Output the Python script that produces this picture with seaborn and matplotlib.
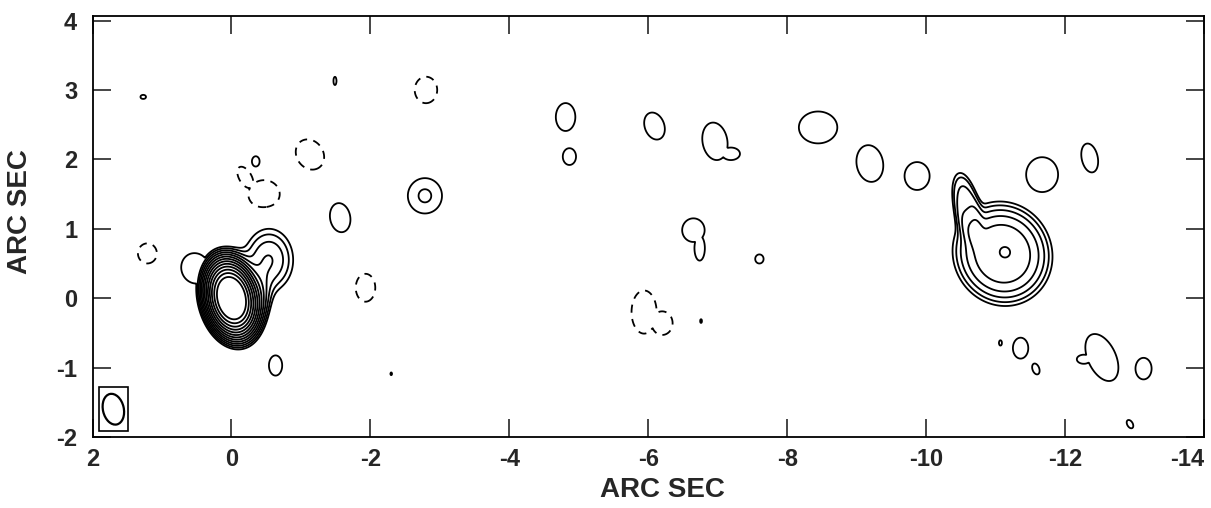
import numpy as np
import matplotlib
matplotlib.use("Agg")
import matplotlib.pyplot as plt
from matplotlib.patches import Ellipse, Rectangle
import seaborn as sns

# contour levels (multiples of the map noise); only one negative level
pos_levels = [1.0, 1.41, 2.0, 2.83, 4.0, 5.66, 8.0, 11.3, 16.0, 22.6, 32.0, 45.3, 64.0]
neg_levels = [-1.0]

# bright emission (core, jet, knot), added together: position, peak, widths, tilt, profile power
src_x = [0.0, -0.54, -0.42, -11.10, -11.14, -10.58]
src_y = [0.0, 0.55, 0.05, 0.64, 0.665, 1.32]
src_amp = [150.0, 2.86, 1.8, 5.3, 0.5, 2.2]
src_sx = [0.155, 0.24, 0.10, 0.475, 0.10, 0.16]
src_sy = [0.237, 0.31, 0.22, 0.51, 0.10, 0.44]
src_ang = [-13, 0, 0, -25, 0, -12]
src_pow = [2, 2, 2, 3, 2, 4]

# faint blobs near the noise (merged as a union); negative ones give the dashed contours
blob_x = [0.52, 1.27, -1.49, -0.35, -0.635, -2.30, -1.565, -2.785, -4.81, -4.865, -6.09,
          -6.96, -7.19, -8.445, -9.19, -9.87, -6.65, -6.74, -7.60, -6.76,
          -11.67, -12.355, -11.07, -11.36, -11.58, -12.53, -12.27, -13.13, -12.935,
          -1.13, -0.47, -0.20, 1.21, -1.93, -2.80, -5.94, -6.20]
blob_y = [0.43, 2.90, 3.13, 1.97, -0.97, -1.09, 1.16, 1.475, 2.61, 2.04, 2.48,
          2.26, 2.08, 2.46, 1.94, 1.76, 0.98, 0.72, 0.565, -0.33,
          1.78, 2.02, -0.645, -0.72, -1.02, -0.855, -0.88, -1.015, -1.815,
          2.07, 1.49, 1.74, 0.645, 0.15, 3.00, -0.20, -0.36]
blob_amp = [1.3, 1.3, 1.3, 1.3, 1.3, 1.3, 1.3, 1.49, 1.3, 1.3, 1.3,
            1.3, 1.3, 1.3, 1.3, 1.3, 1.3, 1.3, 1.3, 1.2,
            1.3, 1.3, 1.15, 1.3, 1.25, 1.3, 1.3, 1.25, 1.3,
            -1.3, -1.3, -1.3, -1.3, -1.3, -1.3, -1.3, -1.3]
blob_sx = [0.236, 0.047, 0.026, 0.065, 0.112, 0.014, 0.171, 0.275, 0.165, 0.112, 0.165,
           0.21, 0.153, 0.325, 0.224, 0.212, 0.19, 0.088, 0.071, 0.018,
           0.27, 0.136, 0.03, 0.13, 0.06, 0.236, 0.118, 0.142, 0.047,
           0.224, 0.27, 0.106, 0.16, 0.165, 0.19, 0.212, 0.177]
blob_sy = [0.26, 0.035, 0.07, 0.088, 0.171, 0.024, 0.248, 0.285, 0.236, 0.142, 0.236,
           0.32, 0.106, 0.27, 0.313, 0.236, 0.20, 0.21, 0.077, 0.035,
           0.295, 0.248, 0.053, 0.177, 0.10, 0.425, 0.077, 0.19, 0.077,
           0.27, 0.248, 0.20, 0.17, 0.236, 0.224, 0.365, 0.20]
blob_ang = [-20, 0, 0, 0, 0, 0, -10, 0, 0, 0, -20,
            -10, 0, 0, -10, 0, 0, 0, 0, 0,
            0, -12, 0, 0, -20, -25, 0, 0, -30,
            -35, 0, -30, 0, 0, 0, 0, 0]
blob_pow = [4, 4, 4, 4, 4, 4, 4, 2, 4, 4, 4,
            4, 4, 4, 4, 4, 4, 4, 4, 4,
            4, 4, 4, 4, 4, 4, 4, 4, 4,
            4, 4, 4, 4, 4, 4, 4, 4]

# restoring beam (arcsec, degrees)
beam_x, beam_y = 1.70, -1.60
beam_minor, beam_major, beam_pa = 0.30, 0.45, -13

x_ticks = [2, 0, -2, -4, -6, -8, -10, -12, -14]
y_ticks = [-2, -1, 0, 1, 2, 3, 4]


def component_field(X, Y, x0, y0, amp, sx, sy, ang, pw):
    t = np.deg2rad(ang)
    dx, dy = X - x0, Y - y0
    u = dx * np.cos(t) + dy * np.sin(t)
    v = -dx * np.sin(t) + dy * np.cos(t)
    q = (u / sx) ** 2 + (v / sy) ** 2
    return amp * np.exp(-0.5 * q ** (pw / 2))


xs = np.linspace(-14.2, 2.2, 2051)
ys = np.linspace(-2.2, 4.3, 813)
X, Y = np.meshgrid(xs, ys)

Z_src = np.zeros_like(X)
for i in range(len(src_x)):
    Z_src += component_field(X, Y, src_x[i], src_y[i], src_amp[i],
                             src_sx[i], src_sy[i], src_ang[i], src_pow[i])

Z_pos = np.zeros_like(X)
Z_neg = np.zeros_like(X)
for i in range(len(blob_x)):
    f = component_field(X, Y, blob_x[i], blob_y[i], blob_amp[i],
                        blob_sx[i], blob_sy[i], blob_ang[i], blob_pow[i])
    if blob_amp[i] > 0:
        Z_pos = np.maximum(Z_pos, f)
    else:
        Z_neg = np.minimum(Z_neg, f)

Z = np.maximum(Z_src, Z_pos) + Z_neg

sns.set_style("ticks")
plt.rcParams['font.family'] = ['Liberation Sans', 'DejaVu Sans']
plt.rcParams['font.weight'] = 'bold'

fig = plt.figure(figsize=(12.11, 5.08), dpi=100)
ax = fig.add_axes([0.0764, 0.1398, 0.9178, 0.8293])

ax.contour(X, Y, Z, levels=pos_levels, colors='black', linewidths=1.3, linestyles='solid')
ax.contour(X, Y, Z, levels=neg_levels, colors='black', linewidths=1.3, linestyles=[(0, (4.5, 3.5))])

# beam in its box
ax.add_patch(Rectangle((beam_x - 0.21, beam_y - 0.31), 0.42, 0.625, fill=False, lw=1.2, ec='black'))
ax.add_patch(Ellipse((beam_x, beam_y), width=beam_minor, height=beam_major, angle=beam_pa,
                     fill=False, lw=1.6, ec='black'))

ax.set_xlim(2, -14)
ax.set_ylim(-2, 4.07)
ax.set_xticks(x_ticks)
ax.set_yticks(y_ticks)
ax.set_xticklabels([str(t) for t in x_ticks])
ax.set_yticklabels([str(t) for t in y_ticks])
ax.tick_params(direction='in', length=13, width=1.2, top=True, right=True, labelsize=17)
ax.tick_params(axis='x', pad=8)
ax.tick_params(axis='y', pad=11)
# last label sits against the right edge
ax.get_xticklabels()[-1].set_horizontalalignment('right')
ax.get_xticklabels()[-1].set_x(-13.97)
for s in ax.spines.values():
    s.set_linewidth(1.3)
    s.set_color('black')

ax.set_xlabel('ARC SEC', fontsize=20, fontweight='bold')
ax.set_ylabel('ARC SEC', fontsize=20, fontweight='bold')
ax.xaxis.set_label_coords(0.513, -0.095)
ax.yaxis.set_label_coords(-0.0535, 0.536)

fig.savefig('out.png', dpi=100)
